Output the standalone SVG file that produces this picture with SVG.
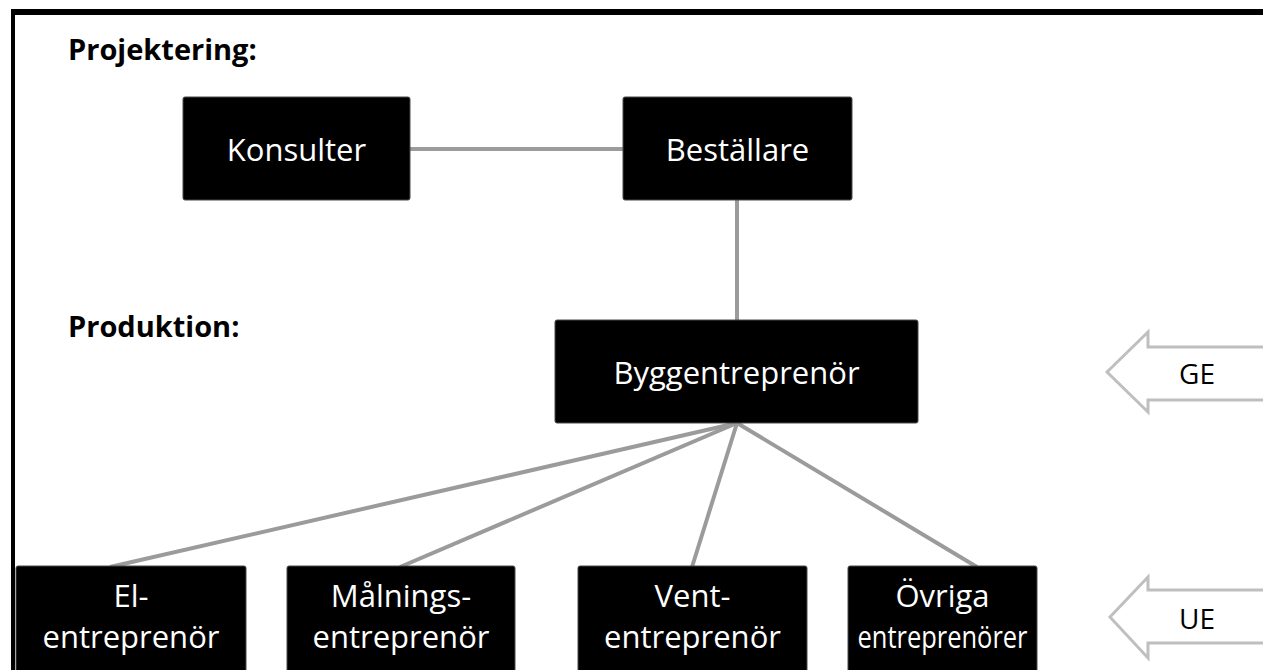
<svg xmlns="http://www.w3.org/2000/svg" width="1263" height="670" viewBox="0 0 1263 670">
  <style>
    .box { fill: #000; stroke: #4a4a4a; stroke-width: 1; }
    .lbl { font-family: "Open Sans", "Liberation Sans", sans-serif; font-size: 31px; fill: #fff; text-anchor: middle; }
    .hdr { font-family: "Open Sans", "Liberation Sans", sans-serif; font-size: 29px; font-weight: bold; fill: #000; }
    .tag { font-family: "Open Sans", "Liberation Sans", sans-serif; font-size: 28px; fill: #000; text-anchor: middle; }
    .link { stroke: #9b9b9b; stroke-width: 4; fill: none; }
    .pointer { fill: #fff; stroke: #bfbfbf; stroke-width: 3; stroke-linejoin: miter; }
  </style>

  <!-- frame -->
  <rect x="0" y="0" width="1263" height="670" fill="#fff"/>
  <rect x="11" y="9" width="1252" height="6" fill="#000"/>
  <rect x="11" y="9" width="4" height="661" fill="#000"/>

  <!-- section headings -->
  <text class="hdr" x="68" y="60">Projektering:</text>
  <text class="hdr" x="68" y="337">Produktion:</text>

  <!-- connectors -->
  <g id="connectors">
    <line class="link" x1="410" y1="149" x2="623" y2="149"/>
    <line class="link" x1="737" y1="200" x2="737" y2="320"/>
    <line class="link" x1="737" y1="423" x2="110" y2="567"/>
    <line class="link" x1="737" y1="423" x2="400" y2="567"/>
    <line class="link" x1="737" y1="423" x2="692" y2="567"/>
    <line class="link" x1="737" y1="423" x2="977" y2="567"/>
  </g>

  <g id="konsulter">
    <rect class="box" x="183" y="97" width="227" height="103" rx="2"/>
    <text class="lbl" x="296.5" y="161">Konsulter</text>
  </g>

  <g id="bestallare">
    <rect class="box" x="623" y="97" width="229" height="103" rx="2"/>
    <text class="lbl" x="737.5" y="161">Beställare</text>
  </g>

  <g id="byggentreprenor">
    <rect class="box" x="555" y="320" width="363" height="103" rx="2"/>
    <text class="lbl" x="736.5" y="384">Byggentreprenör</text>
  </g>

  <g id="el">
    <rect class="box" x="16" y="566" width="230" height="106" rx="2"/>
    <text class="lbl" x="131" y="607">El-</text>
    <text class="lbl" x="131" y="648">entreprenör</text>
  </g>

  <g id="malning">
    <rect class="box" x="287" y="566" width="228" height="106" rx="2"/>
    <text class="lbl" x="401" y="607">Målnings-</text>
    <text class="lbl" x="401" y="648">entreprenör</text>
  </g>

  <g id="vent">
    <rect class="box" x="578" y="566" width="229" height="106" rx="2"/>
    <text class="lbl" x="692.5" y="607">Vent-</text>
    <text class="lbl" x="692.5" y="648">entreprenör</text>
  </g>

  <g id="ovriga">
    <rect class="box" x="848" y="566" width="189" height="106" rx="2"/>
    <text class="lbl" x="942.5" y="607">Övriga</text>
    <text class="lbl" x="942.5" y="648" textLength="170" lengthAdjust="spacingAndGlyphs">entreprenörer</text>
  </g>

  <g id="ge">
    <path class="pointer" d="M1107,372 L1148,332 L1148,347 L1270,347 L1270,400 L1148,400 L1148,412 Z"/>
    <text class="tag" x="1197" y="384">GE</text>
  </g>

  <g id="ue">
    <path class="pointer" d="M1110,617 L1148,577 L1148,590 L1270,590 L1270,643 L1148,643 L1148,658 Z"/>
    <text class="tag" x="1197" y="629">UE</text>
  </g>
</svg>
